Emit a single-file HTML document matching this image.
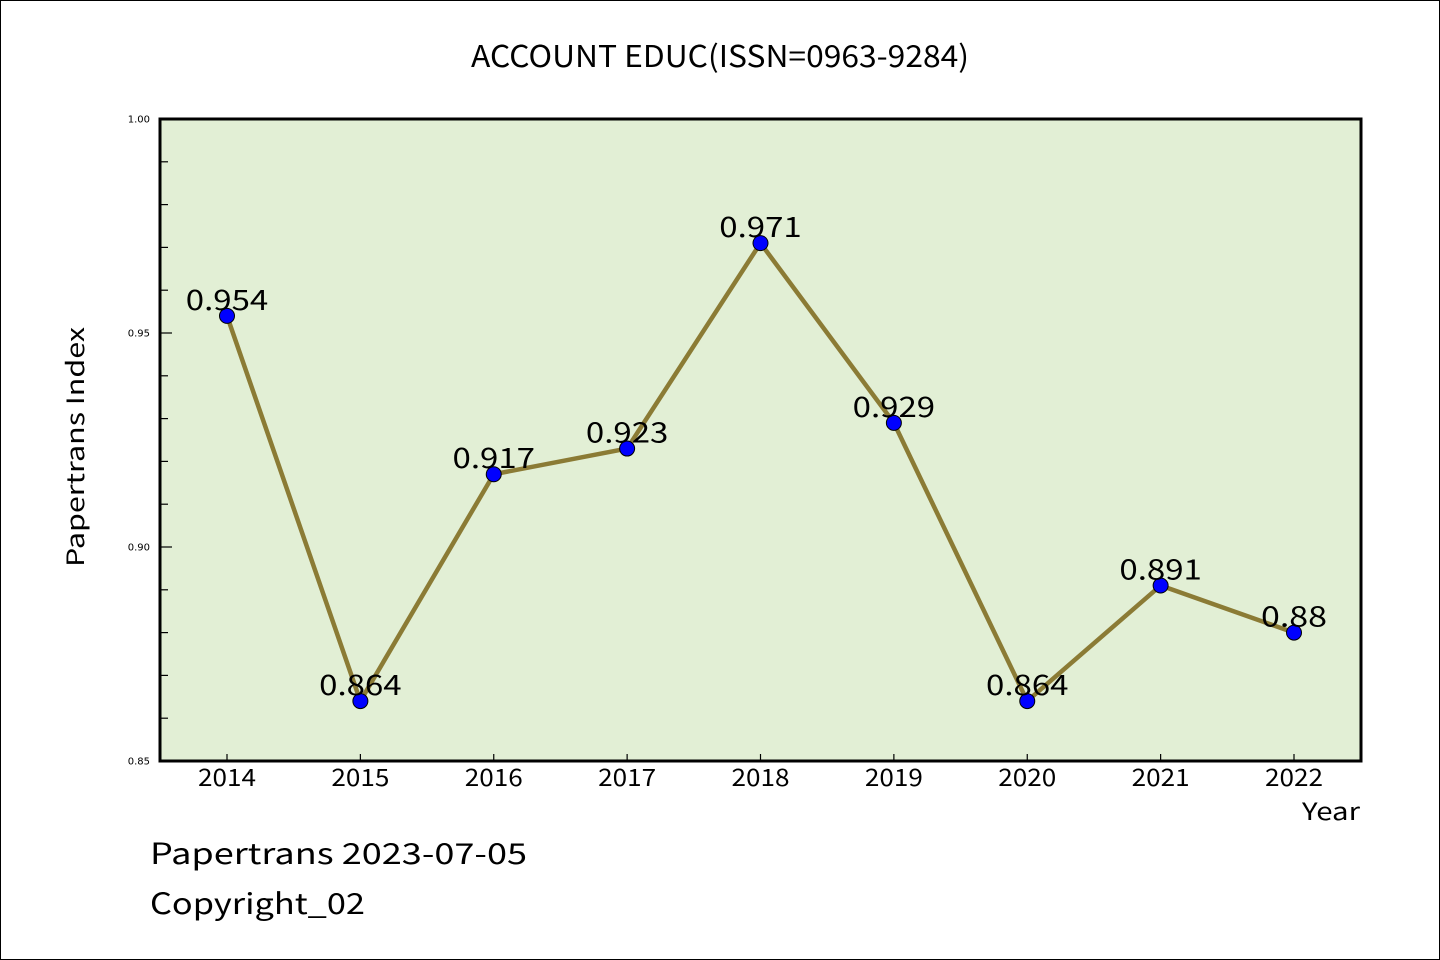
<!DOCTYPE html>
<html><head><meta charset="utf-8"><style>
body{margin:0;background:#fff;}
svg{display:block;}
text{font-family:"WenQuanYi Zen Hei","Noto Sans CJK SC","Liberation Sans",sans-serif;fill:#000;}
</style></head><body>
<svg id="chart" width="1440" height="960">
<rect x="0.5" y="0.5" width="1439" height="959" fill="#fff" stroke="#000" stroke-width="1"/>
<text x="720" y="67" text-anchor="middle" font-size="30" textLength="498" lengthAdjust="spacingAndGlyphs">ACCOUNT EDUC(ISSN=0963-9284)</text>
<rect x="160" y="119" width="1201" height="642" fill="#e2efd5"/>
<g id="ticks"></g>
<g id="series"></g>
<rect x="160" y="119" width="1201" height="642" fill="none" stroke="#000" stroke-width="3"/>
<text transform="translate(84,447) rotate(-90)" text-anchor="middle" font-size="24" textLength="240" lengthAdjust="spacingAndGlyphs">Papertrans Index</text>
<text x="1360" y="820" text-anchor="end" font-size="24" textLength="58" lengthAdjust="spacingAndGlyphs">Year</text>
<text x="150" y="864" font-size="29" textLength="377" lengthAdjust="spacingAndGlyphs">Papertrans 2023-07-05</text>
<text x="150" y="914" font-size="29" textLength="215" lengthAdjust="spacingAndGlyphs">Copyright_02</text>
</svg>
<script>
const years = [2014,2015,2016,2017,2018,2019,2020,2021,2022];
const values = [0.954,0.864,0.917,0.923,0.971,0.929,0.864,0.891,0.88];
const labels = ["0.954","0.864","0.917","0.923","0.971","0.929","0.864","0.891","0.88"];
const yTicks = ["0.85","0.90","0.95","1.00"];
const NS="http://www.w3.org/2000/svg";
const X0=160,X1=1361,Y0=119,Y1=761;
const yMin=0.85,yMax=1.0;
function xs(i){return 227+i*(1294-227)/(years.length-1);}
function ys(v){return Y1-(v-yMin)/(yMax-yMin)*(Y1-Y0);}
function mk(tag,attrs,parent){const e=document.createElementNS(NS,tag);for(const k in attrs)e.setAttribute(k,attrs[k]);parent.appendChild(e);return e;}
const tg=document.getElementById('ticks'), sg=document.getElementById('series');
for(let k=0;k<=15;k++){
  const v=yMin+k*0.01; const y=ys(v); const major=k%5===0;
  const t=mk('line',{x1:X0,x2:X0+(major?12:8),y1:y,y2:y,stroke:'#000','stroke-width':1.2},tg);
  
  
}
yTicks.forEach(s=>{
  const t=mk('text',{x:X0-10,y:ys(parseFloat(s))+3.5,'text-anchor':'end','font-size':10,style:'font-family:"DejaVu Sans",sans-serif'},tg);
  t.textContent=s;
  
  
});
years.forEach((yr,i)=>{
  const x=xs(i);
  const t=mk('line',{x1:x,x2:x,y1:Y1,y2:Y1-7,stroke:'#000','stroke-width':1.2},tg);
  
  
  const l=mk('text',{x:x,y:786,'text-anchor':'middle','font-size':24,textLength:58,lengthAdjust:'spacingAndGlyphs'},tg);
  l.textContent=yr;
  
  
});
const pts=values.map((v,i)=>xs(i)+','+ys(v)).join(' ');
const line=mk('polyline',{points:pts,fill:'none',stroke:'#8b7b35','stroke-width':4.5,'stroke-linejoin':'round'},sg);


values.forEach((v,i)=>{
  const c=mk('circle',{cx:xs(i),cy:ys(v),r:7.5,fill:'#0000ff',stroke:'#000','stroke-width':1},sg);
  
  
  const t=mk('text',{x:xs(i),y:ys(v)-6,'text-anchor':'middle','font-size':28,textLength:labels[i].length*16.5,lengthAdjust:'spacingAndGlyphs'},sg);
  t.textContent=labels[i];
  
  
});
</script>
</body></html>
